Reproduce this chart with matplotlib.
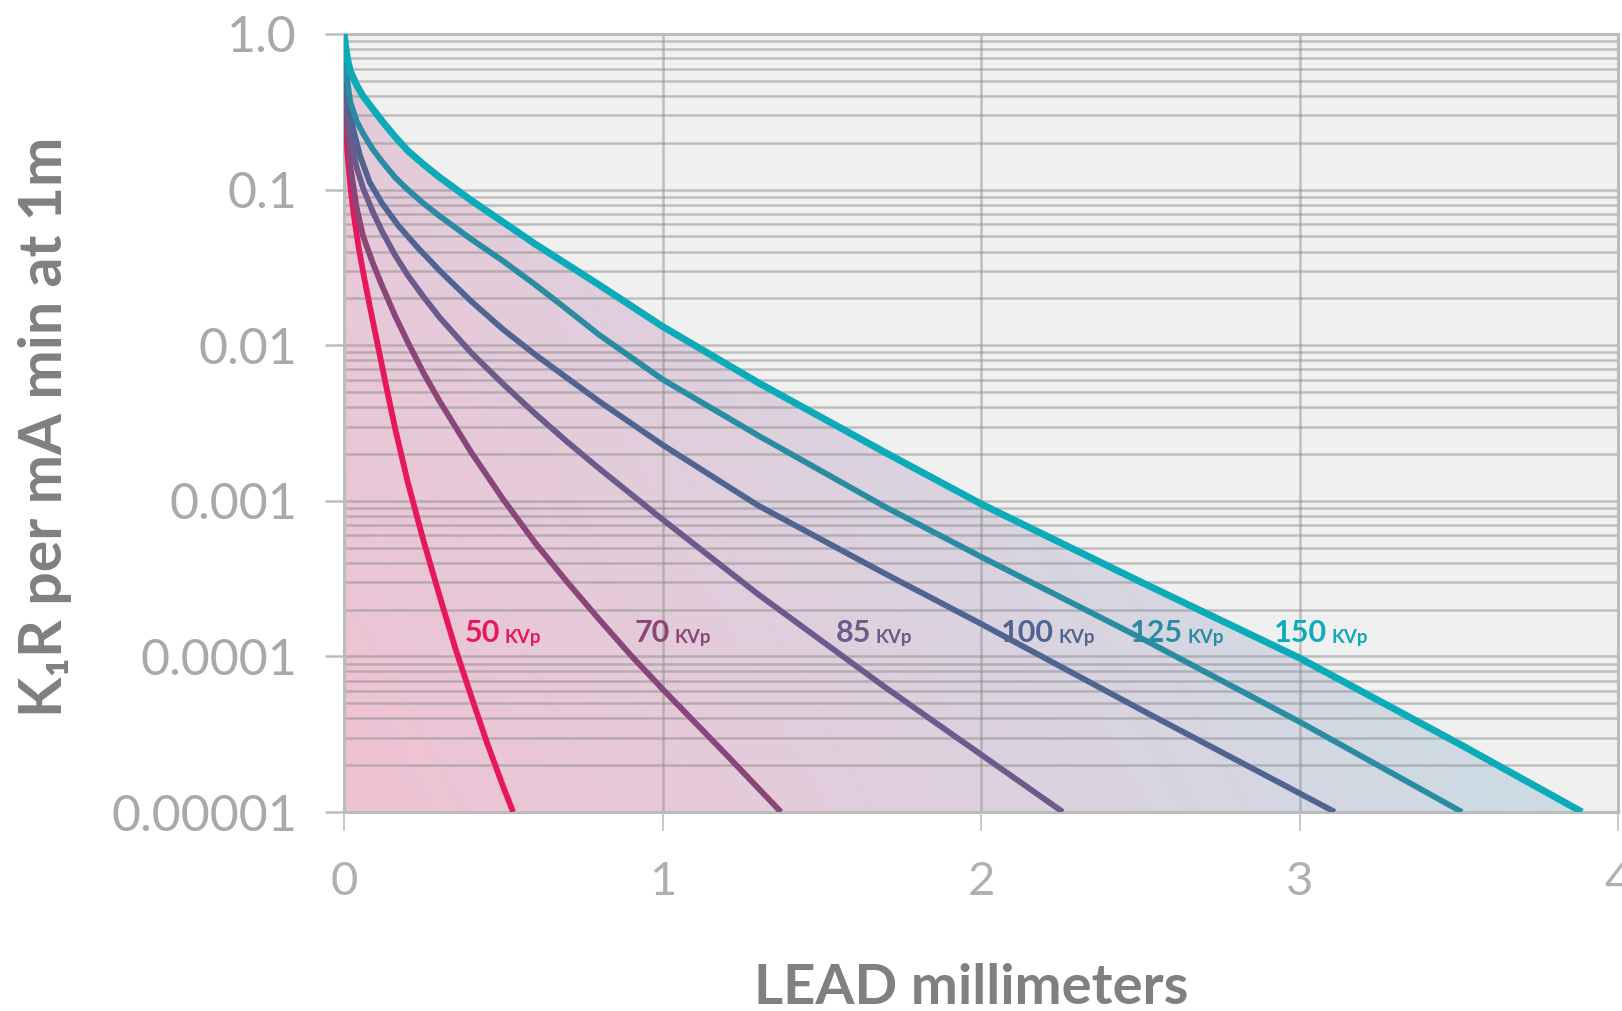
import numpy as np
import matplotlib
matplotlib.use('Agg')
import matplotlib.pyplot as plt
from matplotlib.colors import LinearSegmentedColormap
from matplotlib.ticker import LogLocator, NullFormatter, FixedLocator

plt.rcParams['font.family'] = ['Lato', 'DejaVu Sans']

# lead thickness (mm) vs exposure
x50 = [0, 0.01, 0.02, 0.03, 0.045, 0.06, 0.08, 0.1, 0.13, 0.16, 0.2, 0.25, 0.3, 0.35, 0.4, 0.45, 0.5, 0.531]
y50 = [1.0, 0.178, 0.105, 0.0708, 0.0437, 0.0295, 0.0182, 0.0115, 0.00575, 0.00295, 0.00132,
       0.000550, 0.000245, 0.000112, 5.5e-5, 2.75e-5, 1.45e-5, 1e-5]

x70 = [0, 0.01, 0.02, 0.04, 0.06, 0.09, 0.12, 0.16, 0.2, 0.25, 0.3, 0.4, 0.5, 0.6, 0.7, 0.8, 0.9,
       1.0, 1.2, 1.372]
y70 = [1.0, 0.251, 0.141, 0.0759, 0.0501, 0.0339, 0.0240, 0.0155, 0.0105, 0.00661, 0.00437, 0.00204,
       0.00102, 0.000537, 0.000302, 0.000174, 0.000102, 6.17e-5, 2.34e-5, 1e-5]

x85 = [0, 0.01, 0.02, 0.04, 0.06, 0.09, 0.12, 0.16, 0.2, 0.25, 0.3, 0.4, 0.5, 0.6, 0.7, 0.8, 1.0,
       1.3, 1.7, 2.0, 2.257]
y85 = [1.0, 0.316, 0.219, 0.138, 0.102, 0.0724, 0.0537, 0.0380, 0.0282, 0.0204, 0.0151, 0.00891,
       0.00562, 0.00363, 0.00240, 0.00162, 0.000759, 0.000251, 6.31e-5, 2.34e-5, 1e-5]

x100 = [0, 0.01, 0.03, 0.05, 0.08, 0.12, 0.17, 0.23, 0.3, 0.4, 0.5, 0.6, 0.7, 0.8, 1.0, 1.3, 1.7,
        2.0, 2.5, 3.0, 3.111]
y100 = [1.0, 0.398, 0.240, 0.166, 0.112, 0.0813, 0.0589, 0.0427, 0.0302, 0.0191, 0.0126, 0.00871,
        0.00617, 0.00437, 0.00229, 0.000933, 0.000339, 0.000162, 4.57e-5, 1.32e-5, 1e-5]

x125 = [0, 0.01, 0.02, 0.04, 0.06, 0.09, 0.12, 0.16, 0.2, 0.25, 0.3, 0.4, 0.5, 0.6, 0.7, 0.8, 1.0,
        1.3, 1.7, 2.0, 2.5, 3.0, 3.51]
y125 = [1.0, 0.501, 0.363, 0.275, 0.229, 0.182, 0.151, 0.120, 0.100, 0.0813, 0.0676, 0.0479,
        0.0347, 0.0245, 0.0170, 0.0117, 0.00603, 0.00263, 0.000912, 0.000437, 0.000132, 3.8e-5, 1e-5]

x150 = [0, 0.01, 0.02, 0.04, 0.06, 0.09, 0.12, 0.16, 0.2, 0.25, 0.3, 0.4, 0.5, 0.6, 0.7, 0.8, 1.0,
        1.3, 1.7, 2.0, 2.5, 3.0, 3.5, 3.887]
y150 = [1.0, 0.708, 0.575, 0.468, 0.398, 0.331, 0.275, 0.219, 0.178, 0.145, 0.120, 0.0851, 0.0617,
        0.0447, 0.0331, 0.0245, 0.0132, 0.00575, 0.00204, 0.000955, 0.000302, 9.77e-5, 2.75e-5, 1e-5]

kvp = ['50', '70', '85', '100', '125', '150']
line_colors = ['#e6175a', '#8a4678', '#6b5a8c', '#506491', '#2a8ca2', '#0cabb9']
label_x = [0.38, 0.914, 1.545, 2.063, 2.468, 2.92]
label_y = 1.41e-4

yticks = [1e-5, 1e-4, 1e-3, 1e-2, 1e-1, 1.0]
ytick_labels = ['0.00001', '0.0001', '0.001', '0.01', '0.1', '1.0']
xticks = [0, 1, 2, 3, 4]

series = [(x50, y50), (x70, y70), (x85, y85), (x100, y100), (x125, y125), (x150, y150)]

fig = plt.figure(figsize=(16.22, 10.11), dpi=100)
ax = fig.add_axes([344 / 1622, 199 / 1011, 1274 / 1622, 778 / 1011])
ax.set_yscale('log')
ax.set_facecolor('#f0f0f0')

# gradient fill under the 150 kVp curve
gx, gy = np.meshgrid(np.linspace(0, 1, 300), np.linspace(0, 1, 300))
shade = np.clip(0.9 * gx + 0.3 * gy, 0, 1)
fade = LinearSegmentedColormap.from_list('fade', ['#efc2d3', '#dcd2df', '#c6e0e6'])
im = ax.imshow(shade, cmap=fade, vmin=0, vmax=1, extent=[0, 1, 0, 1], transform=ax.transAxes,
               origin='lower', aspect='auto', zorder=1, interpolation='bilinear')
area = ax.fill_between(x150, y150, 1e-5, color='none', lw=0)
im.set_clip_path(area.get_paths()[0], transform=ax.transData)

for (xs, ys), c, k in zip(series, line_colors, kvp):
    ax.plot(xs, ys, color=c, lw=5.0 if k == '150' else 4.2, zorder=3,
            solid_capstyle='butt', solid_joinstyle='round')

for k, c, lx in zip(kvp, line_colors, label_x):
    t = ax.text(lx, label_y, k, fontsize=22, fontweight='bold', color=c, va='center', ha='left', zorder=4)
    ax.annotate('KVp', xy=(1, 0), xycoords=t, xytext=(3, 1), textcoords='offset points',
                fontsize=13.5, fontweight='bold', color=c, va='bottom', ha='left', zorder=4)

ax.set_xlim(0, 4)
ax.set_ylim(1e-5, 1)

ax.yaxis.set_major_locator(FixedLocator(yticks))
ax.set_yticklabels(ytick_labels)
ax.yaxis.set_minor_locator(LogLocator(base=10, subs=np.arange(2, 10), numticks=20))
ax.yaxis.set_minor_formatter(NullFormatter())
ax.set_xticks(xticks)

grid_style = dict(color='#8c8c8c', alpha=0.5, lw=1.8)
ax.grid(True, which='both', axis='y', **grid_style)
ax.grid(True, which='major', axis='x', **grid_style)

ax.tick_params(axis='y', which='minor', length=0)
ax.tick_params(axis='y', which='major', length=14, width=1.8, color='#bdbdbd',
               labelsize=36, labelcolor='#a9a9a9', pad=20)
ax.tick_params(axis='x', which='major', length=14, width=1.4, color='#c8c8c8',
               labelsize=34, labelcolor='#b0b0b0', pad=21)
for side in ['left', 'bottom', 'top', 'right']:
    ax.spines[side].set_color('#bcbcbc')
    ax.spines[side].set_linewidth(2.2)

fig.text(45 / 1622, 1 - 427 / 1011, 'K₁R per mA min at 1m', rotation=90, ha='center', va='center',
         fontsize=42.5, fontweight='bold', color='#808080')
fig.text(971 / 1622, 1 - 988 / 1011, 'LEAD millimeters', ha='center', va='center',
         fontsize=40.5, fontweight='bold', color='#808080')

fig.savefig('out.png', dpi=100, facecolor='white')
